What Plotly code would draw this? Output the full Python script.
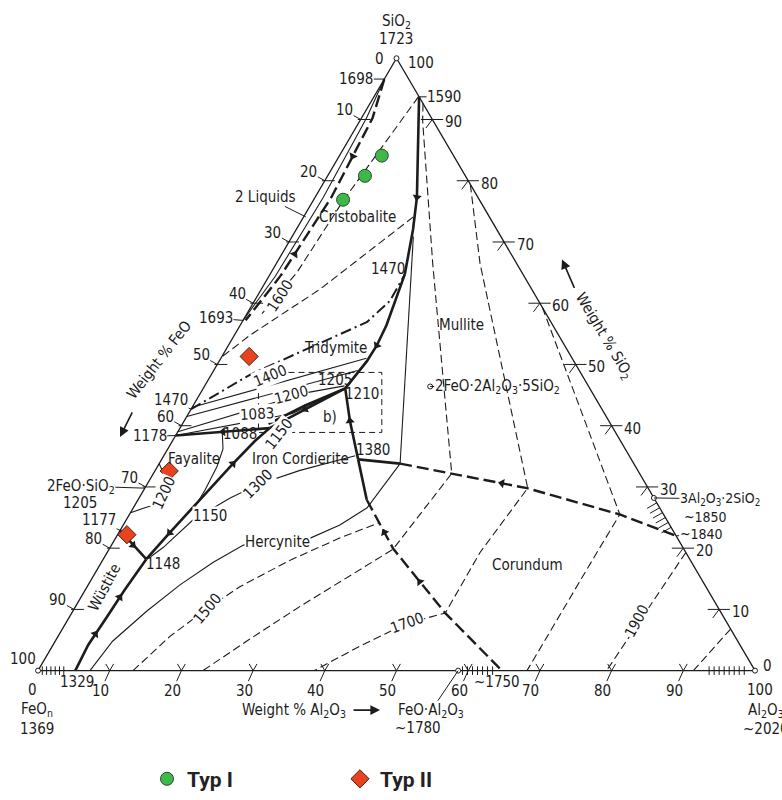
import numpy as np
import plotly.graph_objects as go

# ---------------- sample compositions (wt.%), FeO = 100 - Al2O3 - SiO2
typ1_feo = [10.0, 14.0, 19.0]
typ1_al2o3 = [5.9, 5.2, 4.1]
typ1_sio2 = [84.1, 80.8, 76.9]
typ2_feo = [44.9, 65.4, 76.5]
typ2_al2o3 = [3.8, 2.0, 1.3]
typ2_sio2 = [51.3, 32.6, 22.2]

# ---------------- axis ticks (wt.%)
ticks = [10, 20, 30, 40, 50, 60, 70, 80, 90]
tick_labels = [str(t) for t in ticks]

# ---------------- phase diagram lines, points as (Al2O3, SiO2) wt.%
triangle = [(0, 0), (100, 0), (0, 100), (0, 0)]
# thick solid boundary curves
bnd_wus_herc = [(5.2, 0), (4.9, 4.2), (5.2, 8.4), (5.5, 13.2), (6.0, 18.2)]
bnd_wus_fay = [(0, 22.9), (6.0, 18.2)]
bnd_fay_herc = [(6.0, 18.2), (7.1, 22.5), (8.8, 28.5), (10.3, 33.8), (11.5, 37.5), (12.5, 39.6)]
bnd_fay_trid = [(0, 38.4), (6.3, 39.0), (12.5, 39.6)]
bnd_1088_1205 = [(12.5, 39.6), (15.9, 42.7), (19.8, 46.1)]
bnd_1088_1205b = [(12.0, 40.3), (15.6, 43.3), (19.8, 46.1)]
bnd_trid_mull = [(18.8, 64.7), (20.4, 56.4), (20.7, 53.1), (20.6, 50.5), (19.8, 46.1)]
bnd_crist_mull = [(6.3, 93.7), (14.2, 77.3), (16.3, 72.0), (18.8, 64.7)]
bnd_mull_cord = [(19.8, 46.1), (23.1, 40.8), (27.4, 34.5)]
bnd_herc_top = [(27.4, 34.5), (31.9, 27.9)]
bnd_mull_cor_top = [(27.4, 34.5), (33.6, 33.8)]
# thick dashed boundary curves
bnd_herc_cor = [(31.9, 27.9), (39.6, 19.9), (52.1, 9.4), (64.7, 0)]
bnd_mull_cor = [(33.6, 33.8), (41.4, 32.2), (53.3, 29.8), (68.4, 25.5), (78.0, 22.0)]
bnd_2liq = [(0, 96.6), (1.55, 90.2), (2.27, 77.3), (1.6, 64.4), (0.35, 57.2)]
# dash-dot cristobalite / tridymite transition
bnd_crist_trid = [(0, 42.7), (5.4, 48.3), (10.5, 52.0), (17.4, 56.9), (18.9, 60.4), (18.8, 64.7)]
# thin solid lines
ln_2liq = [(0, 96.6), (0.7, 90.2), (1.15, 77.3), (0.9, 64.4), (0, 57.2)]
ln_mull = [(16.9, 70.9), (33.6, 33.8)]
ln_trid_a = [(0, 43.0), (20.3, 51.0)]
ln_trid_b = [(0, 39.0), (14.8, 45.4), (19.5, 46.5)]
ln_trid_c = [(0, 38.4), (14.5, 42.0), (19.8, 46.1)]
ln_trid_d = [(0, 41.5), (20.1, 49.0)]
ln_fay_1150 = [(6.2, 39.0), (7.7, 36.2), (8.3, 33.3), (8.55, 29.5), (8.5, 26.3)]
ln_fay_1200 = [(0, 33.8), (2.15, 31.4), (3.2, 28.5), (2.2, 26.9), (0, 25.8)]
iso_1300 = [(6.4, 18.6), (7.4, 20.1), (9.3, 24.6), (12.7, 28.2), (15.5, 30.4), (20.2, 32.7), (26.7, 35.1)]
iso_1400 = [(7.25, 0), (8.0, 4.8), (10.3, 9.7), (12.8, 14.0), (15.6, 17.7), (18.4, 20.5),
            (27.1, 21.6), (30.2, 23.8), (32.6, 26.6), (33.6, 33.8)]
# thin dashed isotherms
iso_1600_crist = [(6.2, 93.7), (4.2, 76.8), (3.6, 65.0), (2.1, 58.3)]
iso_1500_crist = [(15.3, 74.1), (8.2, 62.3), (2.2, 54.8), (0, 51.2)]
iso_1500 = [(13.25, 0), (15.6, 5.6), (18.5, 10.1), (21.3, 13.7), (26.1, 18.0), (31.3, 21.7), (35.6, 24.2)]
iso_1600 = [(7.4, 92.6), (8.8, 89.7), (21.8, 66.5), (41.6, 32.2), (39.6, 19.8), (34.9, 14.5),
            (31.3, 10.5), (27.0, 5.2), (23.0, 0)]
iso_1700 = [(20.6, 79.4), (28.4, 66.5), (53.4, 29.8), (52.0, 19.3), (52.1, 9.4), (47.5, 7.7),
            (42.9, 4.0), (38.5, 0)]
iso_1800 = [(40.7, 59.3), (68.4, 25.5), (68.3, 19.3), (68.2, 0)]
iso_1900 = [(80.7, 19.3), (79.3, 0)]
iso_2000 = [(93.2, 6.8), (91.4, 0)]
box_b = [(6.4, 48.7), (23.6, 48.7), (28.5, 38.9), (11.3, 38.9), (6.4, 48.7)]
# compounds
compounds = [(0, 0), (100, 0), (0, 100), (58.6, 0), (71.8, 28.2), (31.5, 46.4)]
# crystallisation-path arrows: (position, pointing toward)
arrows = [((14.2, 77.3), (15.2, 74.5)), ((20.7, 53.1), (20.6, 50.5)),
          ((1.9, 84.0), (2.2, 79.0)), ((1.8, 68.0), (2.1, 73.0)),
          ((5.0, 6.0), (5.2, 8.4)), ((5.4, 12.0), (5.5, 13.2)),
          ((7.1, 22.5), (6.5, 20.3)), ((10.3, 33.8), (11.5, 37.5)),
          ((3.0, 20.5), (4.5, 19.4)), ((6.3, 39.0), (3.0, 38.7)),
          ((15.9, 42.7), (14.0, 41.0)), ((23.1, 40.8), (21.5, 43.4)),
          ((37.0, 22.6), (33.5, 26.2)), ((46.0, 14.5), (41.0, 18.7)),
          ((49.4, 30.6), (44.0, 31.7))]
hatch_bottom = [0.6, 1.2, 1.8, 2.4, 3.0, 3.6, 59.2, 59.9, 60.6, 61.3, 62.0, 62.7, 63.4,
                93.6, 94.3, 95.0, 95.7, 96.4, 97.1, 97.8, 98.5]
hatch_mullite = [27.4, 26.6, 25.8, 25.0, 24.2, 23.4]

# ---------------- geometry helpers
H = np.sqrt(3) / 2
W, HT = 782, 800
PX0, PY0, SC = 38.0, 680.0, 7.17
FONT = "Liberation Sans Narrow, DejaVu Sans Condensed, Roboto Condensed, Arial Narrow, sans-serif"
INK = "#1c1c1c"


def xy(pts):
    a = np.array([p[0] for p in pts], float)
    s = np.array([p[1] for p in pts], float)
    return a + s / 2, s * H


def xy1(p):
    return p[0] + p[1] / 2, p[1] * H


def lines_trace(polys, width, dash="solid"):
    xs, ys = [], []
    for p in polys:
        x, y = xy(p)
        xs += list(x) + [None]
        ys += list(y) + [None]
    return go.Scatter(x=xs, y=ys, mode="lines", hoverinfo="skip", showlegend=False,
                      line=dict(width=width, dash=dash, color=INK))


traces = []
traces.append(lines_trace([triangle], 1.3))
traces.append(lines_trace([bnd_wus_herc, bnd_wus_fay, bnd_fay_herc, bnd_fay_trid, bnd_1088_1205,
                           bnd_1088_1205b, bnd_trid_mull, bnd_crist_mull, bnd_mull_cord,
                           bnd_herc_top, bnd_mull_cor_top], 2.6))
traces.append(lines_trace([bnd_herc_cor, bnd_mull_cor, bnd_2liq], 2.4, "12px,5px"))
traces.append(lines_trace([bnd_crist_trid], 2.0, "11px,4px,2px,4px"))
traces.append(lines_trace([ln_2liq, ln_mull, ln_trid_a, ln_trid_b, ln_trid_c, ln_trid_d,
                           ln_fay_1150, ln_fay_1200, iso_1300, iso_1400], 1.1))
traces.append(lines_trace([iso_1600_crist, iso_1500_crist, iso_1500, iso_1600, iso_1700,
                           iso_1800, iso_1900, iso_2000], 1.1, "8px,4px"))
traces.append(lines_trace([box_b], 1.0, "6px,4px"))

# edge tick marks built from the tick values
tick_polys = []
for t in ticks:
    tick_polys.append([(-0.4, 100 - t), (1.4, 100 - t)])                 # left edge (FeO)
    tick_polys.append([(100 - t - 1.6, t), (100 - t + 1.5, t)])           # right edge (SiO2)
    tick_polys.append([(100 - t, t), (100 - t - 0.2, t - 1.4)])
    tick_polys.append([(t - 1.1, 1.1), (t, 0), (t, 1.1)])                 # bottom (Al2O3)
for a in hatch_bottom:
    tick_polys.append([(a + 0.35, -0.7), (a - 0.35, 0.7)])
for s in hatch_mullite:
    tick_polys.append([(100 - s, s), (100 - s - 0.9, s - 0.9)])
traces.append(lines_trace(tick_polys, 1.0))

# arrows along boundaries
ax_, ay_, ang = [], [], []
for p, q in arrows:
    x0, y0 = xy1(p)
    x1, y1 = xy1(q)
    ax_.append(x0)
    ay_.append(y0)
    ang.append(float(np.degrees(np.arctan2(x1 - x0, y1 - y0))))
traces.append(go.Scatter(x=ax_, y=ay_, mode="markers", hoverinfo="skip", showlegend=False,
                         marker=dict(symbol="triangle-up", size=8, angle=ang, color=INK)))

# compound points
cx, cy = xy(compounds)
traces.append(go.Scatter(x=cx, y=cy, mode="markers", hoverinfo="skip", showlegend=False,
                         marker=dict(symbol="circle", size=5, color="white",
                                     line=dict(color=INK, width=1))))

# samples
x1, y1 = xy(list(zip(typ1_al2o3, typ1_sio2)))
x2, y2 = xy(list(zip(typ2_al2o3, typ2_sio2)))
traces.append(go.Scatter(x=x1, y=y1, mode="markers", name="<b>Typ I</b>",
                         marker=dict(symbol="circle", size=13, color="#3db849",
                                     line=dict(color="#2b4a2b", width=1))))
traces.append(go.Scatter(x=x2, y=y2, mode="markers", name="<b>Typ II</b>",
                         marker=dict(symbol="diamond", size=14, color="#e8431e",
                                     line=dict(color="#4a2010", width=1))))

fig = go.Figure(data=traces)


def plain(text, px, py, angle=0, size=15, bg=False):
    d = dict(text=text, x=px / W, y=1 - py / HT, xref="paper", yref="paper", showarrow=False,
             textangle=angle, font=dict(family=FONT, size=size, color=INK),
             xanchor="center", yanchor="middle", borderpad=0)
    if bg:
        d["bgcolor"] = "white"
    return d


def leader(text, comp, dx, dy, size=15):
    x, y = xy1(comp)
    return dict(text=text, x=x, y=y, xref="x", yref="y", ax=dx, ay=dy, showarrow=True,
                arrowhead=0, arrowwidth=1, arrowcolor=INK, standoff=0, borderpad=0,
                font=dict(family=FONT, size=size, color=INK))


def arrow(px, py, dx, dy):
    return dict(text="", x=px / W, y=1 - py / HT, xref="paper", yref="paper", ax=dx, ay=dy,
                showarrow=True, arrowhead=2, arrowsize=1.2, arrowwidth=1.6, arrowcolor=INK)


ann = []
for t, lab in zip(ticks, tick_labels):
    ann.append(leader(lab, (0, 100 - t), -16, -9))
    x, y = xy1((100 - t, t))
    ann.append(dict(text=lab, x=x, y=y, xref="x", yref="y", showarrow=False, xshift=21, yshift=-3,
                    font=dict(family=FONT, size=15, color=INK)))
    ann.append(leader(lab, (t, 0), -9, 20))

texts = [
    ("SiO<sub>2</sub>", 396, 22), ("1723", 396, 40), ("0", 379, 60), ("100", 421, 64),
    ("Cristobalite", 357, 220), ("Tridymite", 335, 353), ("Mullite", 462, 330),
    ("Fayalite", 194, 465), ("Iron Cordierite", 300, 465), ("Corundum", 527, 573),
    ("b)", 330, 423), ("1470", 388, 273), ("1205", 335, 385), ("1210", 362, 399),
    ("1088", 240, 440), ("1329", 77, 692), ("0", 32, 700), ("100", 23, 668),
    ("FeO<sub>n</sub>", 37, 719), ("1369", 37, 739), ("~1780", 418, 738), ("~1750", 497, 692),
    ("100", 760, 700), ("0", 767, 675), ("Al<sub>2</sub>O<sub>3</sub>", 766, 720),
    ("~2020", 766, 739), ("1205", 80, 510),
    ("Weight % Al<sub>2</sub>O<sub>3</sub>", 294, 720),
]
for t, px, py in texts:
    ann.append(plain(t, px, py))
ann.append(plain("~1850", 705, 524, size=14))

rotated = [
    ("Wüstite", 104, 596, -62, False), ("Hercynite", 277, 550, 0, True),
    ("1600", 280, 300, -57, True), ("1400", 270, 381, -22, True), ("1200", 291, 400, -15, True),
    ("1083", 257, 420, -3, True), ("1150", 279, 440, -52, True), ("1150", 210, 523, 0, True),
    ("1300", 258, 491, -45, True), ("1500", 207, 617, -50, True), ("1700", 407, 632, -20, True),
    ("1900", 637, 630, -62, True), ("1200", 164, 500, -65, True),
    ("Weight % FeO", 159, 365, -52, False), ("Weight % SiO<sub>2</sub>", 604, 340, 59, False),
]
for t, px, py, a, bg in rotated:
    ann.append(plain(t, px, py, a, bg=bg))

leaders = [
    ("1698", (0, 96.6), -28, 0, 15), ("1590", (6.3, 93.7), 25, 0, 15),
    ("1693", (0, 57.2), -27, -2, 15), ("1470", (0, 42.7), -20, -9, 15),
    ("1178", (0, 38.4), -26, 1, 15), ("2FeO·SiO<sub>2</sub>", (0, 29.8), -64, -2, 15),
    ("1177", (0, 22.9), -21, -10, 15), ("1148", (6.0, 18.2), 17, 5, 15),
    ("1380", (27.4, 34.5), 15, -9, 15), ("~1840", (78, 22), 25, -2, 14),
    ("3Al<sub>2</sub>O<sub>3</sub>·2SiO<sub>2</sub>", (71.8, 28.2), 66, 1, 14),
    ("FeO·Al<sub>2</sub>O<sub>3</sub>", (58.6, 0), -27, 40, 15),
    ("2 Liquids", (0.3, 74.1), -40, -20, 15),
    ("2FeO·2Al<sub>2</sub>O<sub>3</sub>·5SiO<sub>2</sub>", (31.5, 46.4), 67, 0, 15),
]
for t, c, dx, dy, sz in leaders:
    ann.append(leader(t, c, dx, dy, sz))

ann += [arrow(120, 443, 13, -26), arrow(562, 263, 13, 30), arrow(380, 720, -28, 0)]

fig.update_layout(
    width=W, height=HT, margin=dict(l=0, r=0, t=0, b=0),
    paper_bgcolor="white", plot_bgcolor="white",
    xaxis=dict(range=[-PX0 / SC, (W - PX0) / SC], visible=False, fixedrange=True),
    yaxis=dict(range=[-(HT - PY0) / SC, PY0 / SC], visible=False, fixedrange=True),
    showlegend=True,
    legend=dict(orientation="h", x=147 / W, y=1 - 790 / HT, xanchor="left", yanchor="middle",
                entrywidth=148, bgcolor="rgba(0,0,0,0)",
                font=dict(family="Roboto, Lato, sans-serif", size=21, color="#222")),
    annotations=ann,
)

fig.write_html("out.html", config={"displayModeBar": False},
               post_script="document.body.style.margin='0';document.body.style.overflow='hidden';")
